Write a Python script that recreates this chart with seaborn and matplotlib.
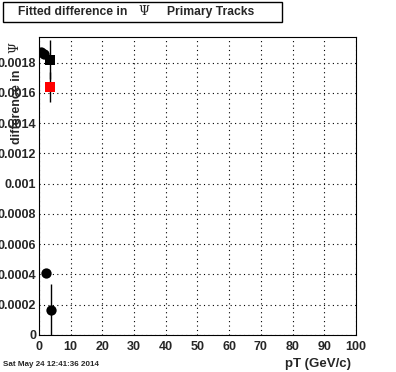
import matplotlib
matplotlib.use("Agg")
import matplotlib.pyplot as plt
import seaborn as sns
import pandas as pd
from matplotlib.ticker import MultipleLocator

# values
pt_circles = [0.6, 1.6, 2.4, 3.7]
diff_circles = [0.00187, 0.00186, 0.00041, 0.000165]
err_circles = [0.0, 0.0, 0.00002, 0.00017]

pt_square = [3.5]
diff_square = [0.00182]
err_square = [0.00013]

pt_red = [3.5]
diff_red = [0.00164]
err_red = [0.0001]

x_ticks = [0, 10, 20, 30, 40, 50, 60, 70, 80, 90, 100]

sns.set_style("white")
plt.rcParams['font.family'] = ['Liberation Sans', 'DejaVu Sans']

fig = plt.figure(figsize=(3.96, 3.72), dpi=100)
ax = fig.add_axes([0.098, 0.0995, 0.801, 0.801])

circ = pd.DataFrame({"pt": pt_circles, "diff": diff_circles})
sq = pd.DataFrame({"pt": pt_square, "diff": diff_square})
red = pd.DataFrame({"pt": pt_red, "diff": diff_red})

ax.errorbar(pt_circles, diff_circles, yerr=err_circles, fmt="none", ecolor="black", elinewidth=1, zorder=2)
ax.errorbar(pt_square, diff_square, yerr=err_square, fmt="none", ecolor="black", elinewidth=1, zorder=2)
ax.errorbar(pt_red, diff_red, yerr=err_red, fmt="none", ecolor="black", elinewidth=1, zorder=2)
sns.scatterplot(data=circ, x="pt", y="diff", marker="o", color="black", s=55, linewidth=0, ax=ax, zorder=3)
sns.scatterplot(data=sq, x="pt", y="diff", marker="s", color="black", s=50, linewidth=0, ax=ax, zorder=3)
sns.scatterplot(data=red, x="pt", y="diff", marker="s", color="red", s=50, linewidth=0, ax=ax, zorder=3)

ax.set_xlim(0, 100)
ax.set_ylim(0, 0.00197)
ax.set_xticks(x_ticks)
ax.xaxis.set_minor_locator(MultipleLocator(2))
ax.yaxis.set_major_locator(MultipleLocator(0.0002))
ax.yaxis.set_minor_locator(MultipleLocator(0.00004))
ax.set_yticklabels([("%g" % v) if v > 0 else "0" for v in ax.get_yticks()])
ax.tick_params(which="major", direction="in", length=9, width=0.8, labelsize=9, pad=2)
ax.tick_params(axis="x", which="major", pad=4)
ax.tick_params(which="minor", direction="in", length=4.5, width=0.8)
for lab in ax.get_xticklabels() + ax.get_yticklabels():
    lab.set_fontweight("bold")
ax.grid(True, which="major", linestyle=(0, (1, 3)), color="black", linewidth=0.8)
for s in ax.spines.values():
    s.set_color("black")
    s.set_linewidth(0.8)

ax.set_xlabel("")
ax.set_ylabel("")
fig.text(0.886, 0.006, "pT (GeV/c)", ha="right", va="bottom", fontsize=9.5, fontweight="bold")
fig.text(0.027, 0.812, "difference in", rotation=90, ha="left", va="top", fontsize=9, fontweight="bold")
fig.text(0.022, 0.857, "\u03a8", rotation=90, ha="left", va="bottom", fontsize=9, family="DejaVu Serif")

# title box
fig.text(0.045, 0.968, "Fitted difference in", ha="left", va="center", fontsize=8.7, fontweight="bold")
fig.text(0.35, 0.968, "\u03a8", ha="left", va="center", fontsize=9, family="DejaVu Serif")
fig.text(0.422, 0.968, "Primary Tracks", ha="left", va="center", fontsize=8.7, fontweight="bold")
fig.patches.append(plt.Rectangle((0.008, 0.94), 0.705, 0.054, transform=fig.transFigure,
                                 fill=False, edgecolor="black", linewidth=1))
fig.text(0.008, 0.012, "Sat May 24 12:41:36 2014", ha="left", va="bottom", fontsize=5.8, fontweight="bold")

fig.savefig("out.png", dpi=100, facecolor="white")
